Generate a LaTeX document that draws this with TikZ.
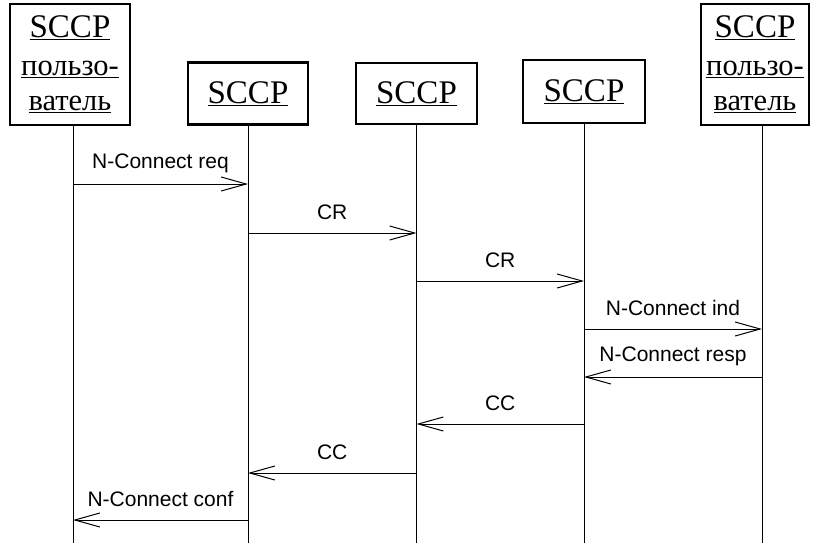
\documentclass[tikz,border=0pt]{standalone}
\usepackage{fontspec}
\setmainfont{Liberation Serif}
\newfontfamily\msgfont{Liberation Sans}
\usetikzlibrary{arrows.meta}
\newcommand\userword[1]{{\fontsize{30.5}{38}\selectfont\underline{#1}}}
\begin{document}
\begin{tikzpicture}[x=1pt,y=-1pt,
  entity/.style={draw,line width=2.4pt,fill=white,inner sep=0pt,
    font=\fontsize{33}{38}\selectfont,align=center},
  lifeline/.style={line width=1pt},
  msg/.style={line width=1pt,-{Straight Barb[length=25pt,width=14pt,line width=1pt]}},
  lbl/.style={font=\msgfont\fontsize{21}{24}\selectfont,inner sep=0pt,yshift=21pt}]
\useasboundingbox (0,0) rectangle (815,546);
% participants
\node[entity,minimum width=120pt,minimum height=121pt] (b1) at (70,64.5)
  {\underline{SCCP}\\[0pt]\userword{пользо-}\\[-3pt]\userword{ватель}};
\node[entity,minimum width=120pt,minimum height=62pt] (b2) at (248,93.5) {\underline{SCCP}};
\node[entity,minimum width=121pt,minimum height=61pt] (b3) at (416.5,93.5) {\underline{SCCP}};
\node[entity,minimum width=122pt,minimum height=63pt] (b4) at (584,91.5) {\underline{SCCP}};
\node[entity,minimum width=108pt,minimum height=121pt] (b5) at (755,64.5)
  {\underline{SCCP}\\[0pt]\userword{пользо-}\\[-3pt]\userword{ватель}};
% lifeline ends
\coordinate (L1) at (73,543);
\coordinate (L2) at (248,543);
\coordinate (L3) at (416.5,543);
\coordinate (L4) at (584,543);
\coordinate (L5) at (762,543);
\draw[lifeline] (b1.south -| L1) -- (L1);
\draw[lifeline] (b2.south) -- (L2);
\draw[lifeline] (b3.south) -- (L3);
\draw[lifeline] (b4.south) -- (L4);
\draw[lifeline] (b5.south -| L5) -- (L5);
% message levels
\coordinate (m1) at (0,184);
\coordinate (m2) at (0,233);
\coordinate (m3) at (0,281);
\coordinate (m4) at (0,329);
\coordinate (m5) at (0,377);
\coordinate (m6) at (0,424);
\coordinate (m7) at (0,473);
\coordinate (m8) at (0,520);
% messages
\draw[msg] (L1 |- m1) -- node[lbl] {N-Connect req} (L2 |- m1);
\draw[msg] (L2 |- m2) -- node[lbl] {CR} (L3 |- m2);
\draw[msg] (L3 |- m3) -- node[lbl] {CR} (L4 |- m3);
\draw[msg] (L4 |- m4) -- node[lbl] {N-Connect ind} (L5 |- m4);
\draw[msg] (L5 |- m5) -- node[lbl] {N-Connect resp} (L4 |- m5);
\draw[msg] (L4 |- m6) -- node[lbl] {CC} (L3 |- m6);
\draw[msg] (L3 |- m7) -- node[lbl] {CC} (L2 |- m7);
\draw[msg] (L2 |- m8) -- node[lbl] {N-Connect conf} (L1 |- m8);
\end{tikzpicture}
\end{document}
